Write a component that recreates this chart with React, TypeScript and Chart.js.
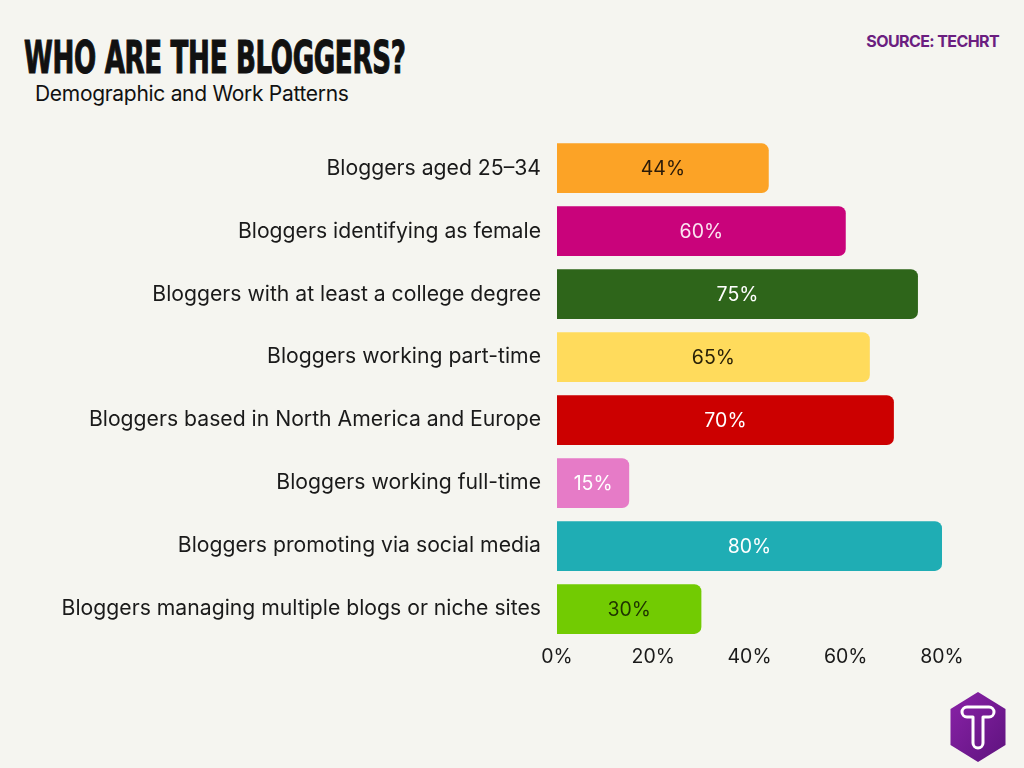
import React, { useEffect, useRef } from "react";
import { Chart, registerables } from "chart.js";

Chart.register(...registerables);

const categories = [
  "Bloggers aged 25–34",
  "Bloggers identifying as female",
  "Bloggers with at least a college degree",
  "Bloggers working part-time",
  "Bloggers based in North America and Europe",
  "Bloggers working full-time",
  "Bloggers promoting via social media",
  "Bloggers managing multiple blogs or niche sites",
];
const values = [44, 60, 75, 65, 70, 15, 80, 30];
const barColors = ["#FCA326", "#C9037B", "#2E651A", "#FFDB5C", "#CC0000", "#E67BC7", "#1FADB4", "#72CB02"];
const labelColors = ["#2A1A08", "#FBE3F1", "#FFFFFF", "#2A2208", "#FFFFFF", "#FFFFFF", "#FFFFFF", "#1E3300"];
const xTicks = [0, 20, 40, 60, 80];

const FONT = "Inter, 'Noto Sans', sans-serif";

const barLabelPlugin = {
  id: "barLabels",
  afterDatasetsDraw(chart: any) {
    const ctx = chart.ctx;
    const meta = chart.getDatasetMeta(0);
    ctx.save();
    ctx.font = `19.5px ${FONT}`;
    ctx.textAlign = "center";
    ctx.textBaseline = "middle";
    meta.data.forEach((bar: any, i: number) => {
      const p = bar.getProps(["x", "y", "base"], true);
      ctx.fillStyle = labelColors[i];
      ctx.fillText(values[i] + "%", (p.x + p.base) / 2, p.y + 1);
    });
    ctx.restore();
  },
};

export default function App() {
  const ref = useRef<HTMLCanvasElement>(null);
  useEffect(() => {
    document.body.style.margin = "0";
    const chart = new Chart(ref.current!, {
      type: "bar",
      data: {
        labels: categories,
        datasets: [
          {
            data: values,
            backgroundColor: barColors,
            borderRadius: { topRight: 7, bottomRight: 7, topLeft: 0, bottomLeft: 0 },
            borderSkipped: false,
            barPercentage: 0.79,
            categoryPercentage: 1,
          },
        ],
      },
      options: {
        indexAxis: "y",
        animation: false,
        responsive: false,
        devicePixelRatio: 1,
        layout: { padding: { top: 5, right: 82, left: 0, bottom: 0 } },
        plugins: { legend: { display: false }, tooltip: { enabled: false } },
        scales: {
          x: {
            min: 0,
            max: 80,
            grid: { display: false, drawTicks: false },
            border: { display: false },
            afterBuildTicks: (s: any) => {
              s.ticks = xTicks.map((v) => ({ value: v }));
            },
            afterFit: (s: any) => {
              s.height = 39.5;
            },
            ticks: {
              padding: 5,
              color: "#1a1a1a",
              font: { family: FONT, size: 19.5 },
              callback: (v: any) => v + "%",
            },
          },
          y: {
            grid: { display: false, drawTicks: false },
            border: { display: false },
            afterFit: (s: any) => {
              s.width = 557;
            },
            ticks: {
              padding: 16,
              color: "#1a1a1a",
              font: { family: FONT, size: 21.2 },
            },
          },
        },
      },
      plugins: [barLabelPlugin],
    });
    return () => chart.destroy();
  }, []);

  return (
    <div style={{ position: "relative", width: 1024, height: 768, background: "#F5F5F0", overflow: "hidden" }}>
      <div
        style={{
          position: "absolute",
          left: 24,
          top: 33,
          fontFamily: "'Liberation Sans Narrow', 'DejaVu Sans Condensed', sans-serif",
          fontWeight: 700,
          fontSize: 45,
          lineHeight: "50px",
          color: "#111",
          transform: "scaleX(0.645)",
          transformOrigin: "left top",
          whiteSpace: "nowrap",
          letterSpacing: -0.5,
          WebkitTextStroke: "1.1px #111",
        }}
      >
        WHO ARE THE BLOGGERS?
      </div>
      <div
        style={{
          position: "absolute",
          left: 35,
          top: 80,
          fontFamily: FONT,
          fontSize: 21,
          lineHeight: "28px",
          color: "#111",
          letterSpacing: -0.3,
          whiteSpace: "nowrap",
        }}
      >
        Demographic and Work Patterns
      </div>
      <div
        style={{
          position: "absolute",
          right: 25,
          top: 30,
          fontFamily: FONT,
          fontWeight: 700,
          fontSize: 16,
          lineHeight: "22px",
          color: "#6B1E80",
          letterSpacing: -0.6,
          whiteSpace: "nowrap",
        }}
      >
        SOURCE: TECHRT
      </div>
      <canvas ref={ref} width={1024} height={572} style={{ position: "absolute", left: 0, top: 108 }} />
      <svg width={80} height={90} style={{ position: "absolute", left: 938, top: 682 }} viewBox="-40 -45 80 90">
        <defs>
          <linearGradient id="lg" x1="0" y1="0" x2="1" y2="1">
            <stop offset="0" stopColor="#8A22A8" />
            <stop offset="1" stopColor="#5E137E" />
          </linearGradient>
        </defs>
        <polygon points="0,-35 27.5,-18 27.5,18 0,35 -27.5,18 -27.5,-18" fill="url(#lg)" />
        <path
          d="M -11 -20 H 11 A 5 5 0 0 1 11 -10 H 5 V 16 A 5 5 0 0 1 -5 16 V -10 H -11 A 5 5 0 0 1 -11 -20 Z"
          fill="none"
          stroke="#fff"
          strokeWidth={3}
          strokeLinejoin="round"
        />
      </svg>
    </div>
  );
}
